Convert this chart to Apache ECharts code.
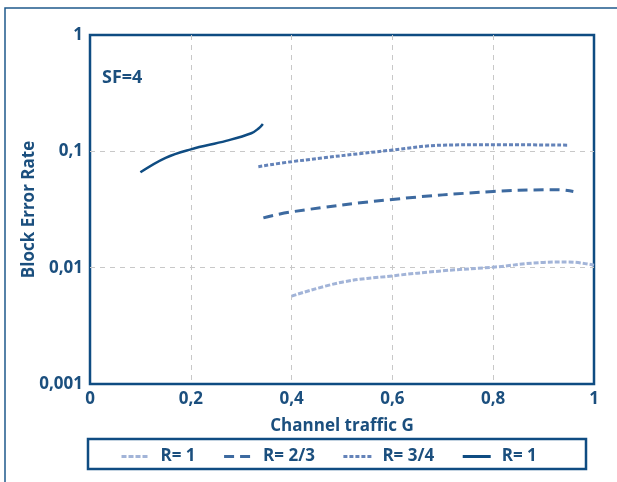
<!DOCTYPE html>
<html>
<head>
<meta charset="UTF-8">
<title>Block Error Rate</title>
<script src="https://cdn.jsdelivr.net/npm/echarts@6/dist/echarts.min.js"></script>
<style>
  html, body { margin: 0; padding: 0; background: #fff; }
  #main { width: 617px; height: 482px; }
</style>
</head>
<body>
<div id="main"></div>
<script>
// tick labels
var xTicks = ['0', '0,2', '0,4', '0,6', '0,8', '1'];
var yTicks = {'0.001': '0,001', '0.01': '0,01', '0.1': '0,1', '1': '1'};

var seriesNames = ['R= 1', 'R= 2/3', 'R= 3/4', 'R= 1 '];

// [G, BLER]
var r1Light = [[0.40, 0.0057], [0.5, 0.0075], [0.6, 0.0085], [0.7, 0.0094], [0.8, 0.0101], [0.9, 0.0111], [0.95, 0.0112], [1.0, 0.0105]];
var r23 = [[0.344, 0.0268], [0.4, 0.0302], [0.6, 0.0386], [0.8, 0.0452], [0.9, 0.0467], [0.93, 0.0468], [0.959, 0.0452]];
var r34 = [[0.334, 0.0738], [0.4, 0.0815], [0.6, 0.1026], [0.7, 0.113], [0.8, 0.114], [0.949, 0.113]];
var r1Dark = [[0.10, 0.066], [0.15, 0.088], [0.2, 0.104], [0.27, 0.123], [0.32, 0.143], [0.335, 0.158], [0.343, 0.172]];

var navy = '#0f4c82';
var txt = '#1b4f7e';
var font = 'Open Sans';

var chart = echarts.init(document.getElementById('main'));

function mkLine(name, data, color, width, type) {
  return {
    name: name,
    type: 'line',
    data: data,
    smooth: 0.4,
    symbol: 'none',
    lineStyle: { color: color, width: width, type: type },
    itemStyle: { color: color }
  };
}

var gridLine = { show: true, showMinLine: false, showMaxLine: false, lineStyle: { color: '#c8c8c8', type: [5, 5], width: 1 } };

var option = {
  animation: false,
  backgroundColor: '#fff',
  grid: {
    left: 90, right: 23, top: 35, bottom: 98,
    show: true, borderColor: navy, borderWidth: 2.5
  },
  graphic: [
    { type: 'rect', shape: { x: 5, y: 8, width: 640, height: 500 }, style: { fill: 'none', stroke: '#1f5a8c', lineWidth: 1.5 }, silent: true },
    { type: 'rect', shape: { x: 88, y: 439, width: 498, height: 30 }, style: { fill: 'none', stroke: navy, lineWidth: 2.5 }, silent: true },
    { type: 'text', left: 102, top: 69, style: { text: 'SF=4', fill: txt, font: 'bold 18px "Open Sans"' } }
  ],
  legend: {
    left: 115, top: 443,
    itemWidth: 28, itemHeight: 18, itemGap: 27,
    itemStyle: { opacity: 0 },
    lineStyle: { width: 3 },
    textStyle: { color: txt, fontFamily: font, fontWeight: 'bold', fontSize: 17, padding: [0, 0, 0, 6] },
    data: seriesNames
  },
  xAxis: {
    type: 'value', min: 0, max: 1, interval: 0.2,
    name: 'Channel traffic G', nameLocation: 'middle', nameGap: 34,
    nameMoveOverlap: false,
    nameTextStyle: { color: txt, fontFamily: font, fontWeight: 'bold', fontSize: 17 },
    axisLine: { show: false }, axisTick: { show: false },
    axisLabel: {
      color: txt, fontFamily: font, fontWeight: 'bold', fontSize: 17, margin: 7,
      formatter: function (v) { return xTicks[Math.round(v / 0.2)]; }
    },
    splitLine: gridLine
  },
  yAxis: {
    type: 'log', logBase: 10, min: 0.001, max: 1,
    name: 'Block Error Rate', nameLocation: 'middle', nameGap: 52,
    nameMoveOverlap: false,
    nameTextStyle: { color: txt, fontFamily: font, fontWeight: 'bold', fontSize: 17 },
    axisLine: { show: false }, axisTick: { show: false },
    axisLabel: {
      color: txt, fontFamily: font, fontWeight: 'bold', fontSize: 17, margin: 7,
      formatter: function (v) { return yTicks[String(+v.toPrecision(3))] || ''; }
    },
    splitLine: gridLine,
    minorTick: { show: false }
  },
  series: [
    mkLine(seriesNames[0], r1Light, '#a2b4d8', 3, [5, 2]),
    mkLine(seriesNames[1], r23, '#3d6aa0', 3, [10, 6]),
    mkLine(seriesNames[2], r34, '#6483b9', 3, [4, 2]),
    mkLine(seriesNames[3], r1Dark, navy, 2.5, 'solid')
  ]
};

chart.setOption(option);
</script>
</body>
</html>
